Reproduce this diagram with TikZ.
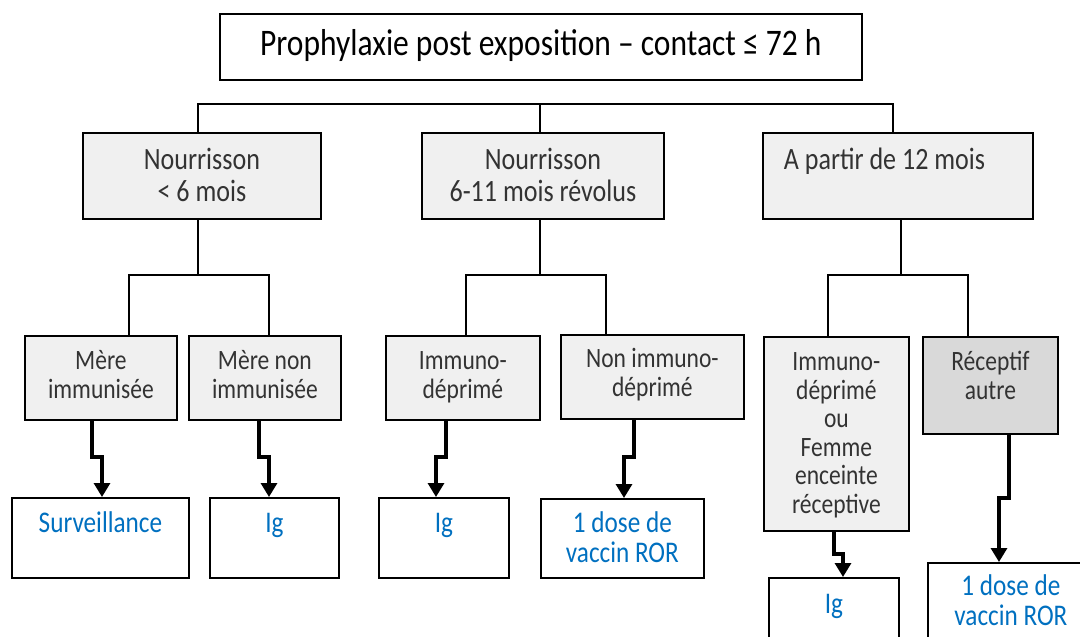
\documentclass[tikz,border=0pt]{standalone}
\usepackage{fontspec}
\setmainfont[FakeStretch=0.84]{Carlito}
\usetikzlibrary{arrows.meta}
\definecolor{boxgray}{HTML}{F0F0F0}
\definecolor{boxdark}{HTML}{D9D9D9}
\definecolor{txtblue}{HTML}{0070C0}
\definecolor{txtgray}{HTML}{333333}
% width, height, font size, baselineskip, top pad, text
\newcommand\boxtext[6]{\parbox[c][#2][t]{#1}{\centering\fontsize{#3}{#4}\selectfont\vspace*{#5}\strut #6\par}}
\newcommand\boxtextleft[7]{\parbox[c][#2][t]{#1}{\raggedright\fontsize{#3}{#4}\selectfont\vspace*{#5}\strut\hspace*{#6}#7\par}}
\tikzset{
  box/.style={draw=black, line width=1.8pt, inner sep=0pt, anchor=north west},
  grey/.style={box, fill=boxgray, text=txtgray},
  dark/.style={box, fill=boxdark, text=txtgray},
  res/.style={box, fill=white, text=txtblue},
  conn/.style={line width=1.8pt},
  arr/.style={line width=3.2pt, -{Triangle[length=14pt,width=16pt]}},
}
\begin{document}
\begin{tikzpicture}[x=1pt,y=-1pt]
\clip (0,0) rectangle (1080,637);
\fill[white] (0,0) rectangle (1080,637);

% title
\node[box, fill=white, text=black] (t) at (219,13) {\boxtext{642pt}{66pt}{37.5}{44}{11.2pt}{Prophylaxie post exposition – contact ≤ 72 h}};

% level 1
\node[grey] (b1) at (82,132) {\boxtext{238pt}{86pt}{31}{32}{14.6pt}{Nourrisson\\< 6 mois}};
\node[grey] (b2) at (421,132) {\boxtext{242pt}{86pt}{31}{32}{14.6pt}{Nourrisson\\6-11 mois révolus}};
\node[grey] (b3) at (762,132) {\boxtextleft{270pt}{86pt}{31}{32}{14.6pt}{21pt}{A partir de 12 mois}};

% level 2
\node[grey] (c1) at (24,335) {\boxtext{152pt}{84pt}{28}{29}{13.7pt}{Mère\\immunisée}};
\node[grey] (c2) at (188,335) {\boxtext{152pt}{84pt}{28}{29}{13.7pt}{Mère non\\immunisée}};
\node[grey] (c3) at (385,335) {\boxtext{154pt}{84pt}{28}{29}{13.7pt}{Immuno-\\déprimé}};
\node[grey] (c4) at (560,334) {\boxtext{183pt}{84pt}{28}{29}{12.7pt}{Non immuno-\\déprimé}};
\node[grey] (c5) at (763,336) {\boxtext{145pt}{194pt}{28}{28.5}{14pt}{Immuno-\\déprimé\\ou\\Femme\\enceinte\\réceptive}};
\node[dark] (c6) at (922,336) {\boxtext{135pt}{97pt}{28}{29}{13.7pt}{Réceptif\\autre}};

% level 3
\node[res] (d1) at (11,497) {\boxtext{177pt}{80pt}{30}{31}{13.3pt}{Surveillance}};
\node[res] (d2) at (209,497) {\boxtext{129pt}{80pt}{30}{31}{13.3pt}{Ig}};
\node[res] (d3) at (378,497) {\boxtext{130pt}{80pt}{30}{31}{13.3pt}{Ig}};
\node[res] (d4) at (540,498) {\boxtext{163pt}{79pt}{30}{30}{12.8pt}{1 dose de\\vaccin ROR}};
\node[res] (d5) at (768,577) {\boxtext{130pt}{90pt}{30}{31}{14.3pt}{Ig}};
\node[res] (d6) at (927,562) {\boxtext{166pt}{100pt}{30}{30}{11.8pt}{1 dose de\\vaccin ROR}};

% bus from title level
\coordinate (bl) at (198,104);
\coordinate (bm) at (540,104);
\coordinate (br) at (893,104);
\draw[conn] (b1.north -| bl) -- (bl) -- (br) -- (b3.north -| br);
\draw[conn] (bm) -- (b2.north -| bm);

% level 1 -> level 2
\coordinate (j1) at (198,275); \coordinate (h1l) at (129,275); \coordinate (h1r) at (269,275);
\coordinate (j2) at (540,275); \coordinate (h2l) at (466,275); \coordinate (h2r) at (606,275);
\coordinate (j3) at (901,275); \coordinate (h3l) at (828,275); \coordinate (h3r) at (968,275);
\draw[conn] (b1.south -| j1) -- (j1);
\draw[conn] (c1.north -| h1l) -- (h1l) -- (h1r) -- (c2.north -| h1r);
\draw[conn] (b2.south -| j2) -- (j2);
\draw[conn] (c3.north -| h2l) -- (h2l) -- (h2r) -- (c4.north -| h2r);
\draw[conn] (b3.south -| j3) -- (j3);
\draw[conn] (c5.north -| h3l) -- (h3l) -- (h3r) -- (c6.north -| h3r);

% level 2 -> level 3 arrows
\coordinate (a1) at (92,457);   \coordinate (a1b) at (102,457);
\coordinate (a2) at (259,457);  \coordinate (a2b) at (269,457);
\coordinate (a3) at (446,457);  \coordinate (a3b) at (436,457);
\coordinate (a4) at (634,457);  \coordinate (a4b) at (624,457);
\coordinate (a5) at (834,554);  \coordinate (a5b) at (843,554);
\coordinate (a6) at (1009,498); \coordinate (a6b) at (999,498);
\draw[arr] (c1.south -| a1) -- (a1) -- (a1b) -- (d1.north -| a1b);
\draw[arr] (c2.south -| a2) -- (a2) -- (a2b) -- (d2.north -| a2b);
\draw[arr] (c3.south -| a3) -- (a3) -- (a3b) -- (d3.north -| a3b);
\draw[arr] (c4.south -| a4) -- (a4) -- (a4b) -- (d4.north -| a4b);
\draw[arr] (c5.south -| a5) -- (a5) -- (a5b) -- (d5.north -| a5b);
\draw[arr] (c6.south -| a6) -- (a6) -- (a6b) -- (d6.north -| a6b);
\end{tikzpicture}
\end{document}
